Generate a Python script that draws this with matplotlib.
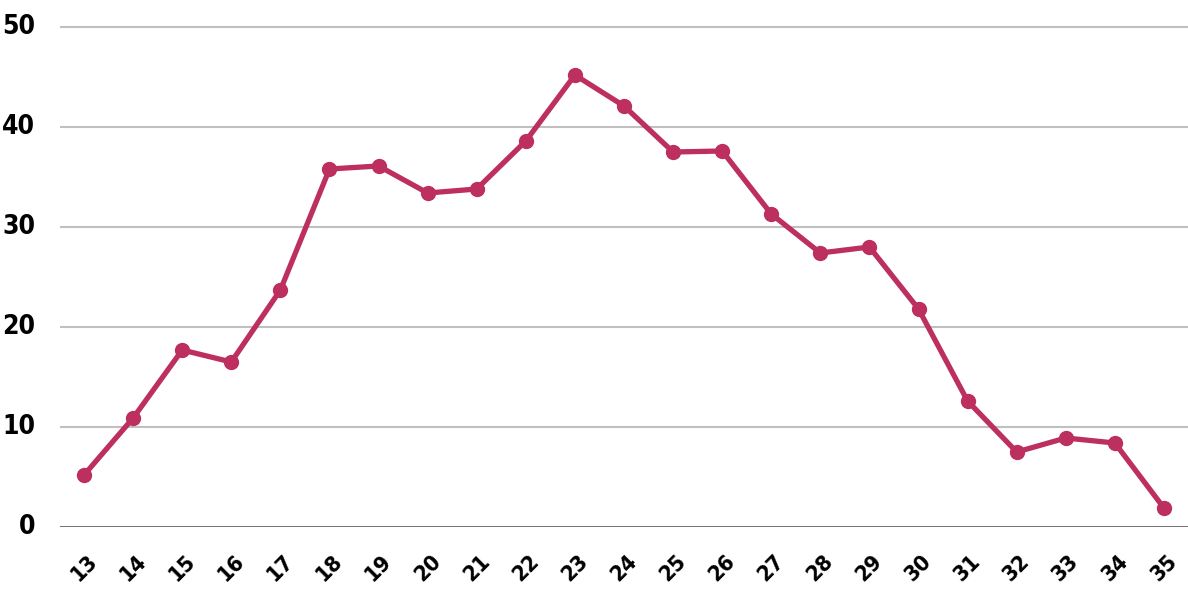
import matplotlib
matplotlib.use("Agg")
import matplotlib.pyplot as plt
from matplotlib import font_manager as fm

ages = list(range(13, 36))
values = [5.2, 10.9, 17.7, 16.5, 23.7, 35.8, 36.1, 33.4, 33.8, 38.6, 45.2, 42.1,
          37.5, 37.6, 31.3, 27.4, 28.0, 21.8, 12.6, 7.5, 8.9, 8.4, 1.9]
yticks = [0, 10, 20, 30, 40, 50]

# prefer a condensed bold font
chosen = None
for f in fm.fontManager.ttflist:
    if f.fname.split('/')[-1] == 'DejaVuSansCondensed-Bold.ttf':
        chosen = f
        break
if chosen is not None:
    fp = fm.FontProperties(fname=chosen.fname)
else:
    fp = fm.FontProperties(family='DejaVu Sans', weight='bold')

W, H = 1188, 591
fig = plt.figure(figsize=(W / 100, H / 100), dpi=100)
ax = fig.add_axes([60 / W, (H - 527) / H, 1128 / W, 527 / H])

color = '#BC2F5E'
ax.plot(ages, values, color=color, lw=3.8, marker='o', ms=10, mfc=color, mec=color,
        zorder=3, solid_joinstyle='round')

ax.set_xlim(12.51, 35.49)
ax.set_ylim(0, 52.7)
ax.set_yticks(yticks)
ax.set_xticks(ages)
ax.set_xticklabels([str(a) for a in ages])
for y in yticks[1:]:
    ax.axhline(y, color='#C0C0C0', lw=1.5, zorder=1)
ax.axhline(0, color='#666666', lw=2, zorder=2)

for s in ax.spines.values():
    s.set_visible(False)
ax.tick_params(axis='both', length=0)
ax.tick_params(axis='y', pad=18)
ax.tick_params(axis='x', pad=17)
for lbl in ax.get_yticklabels():
    lbl.set_fontproperties(fp)
    lbl.set_fontsize(19)
    lbl.set_va('center')
for lbl in ax.get_xticklabels():
    lbl.set_fontproperties(fp)
    lbl.set_fontsize(16)
    lbl.set_rotation(45)
    lbl.set_ha('center')

fig.savefig('out.png', dpi=100)
